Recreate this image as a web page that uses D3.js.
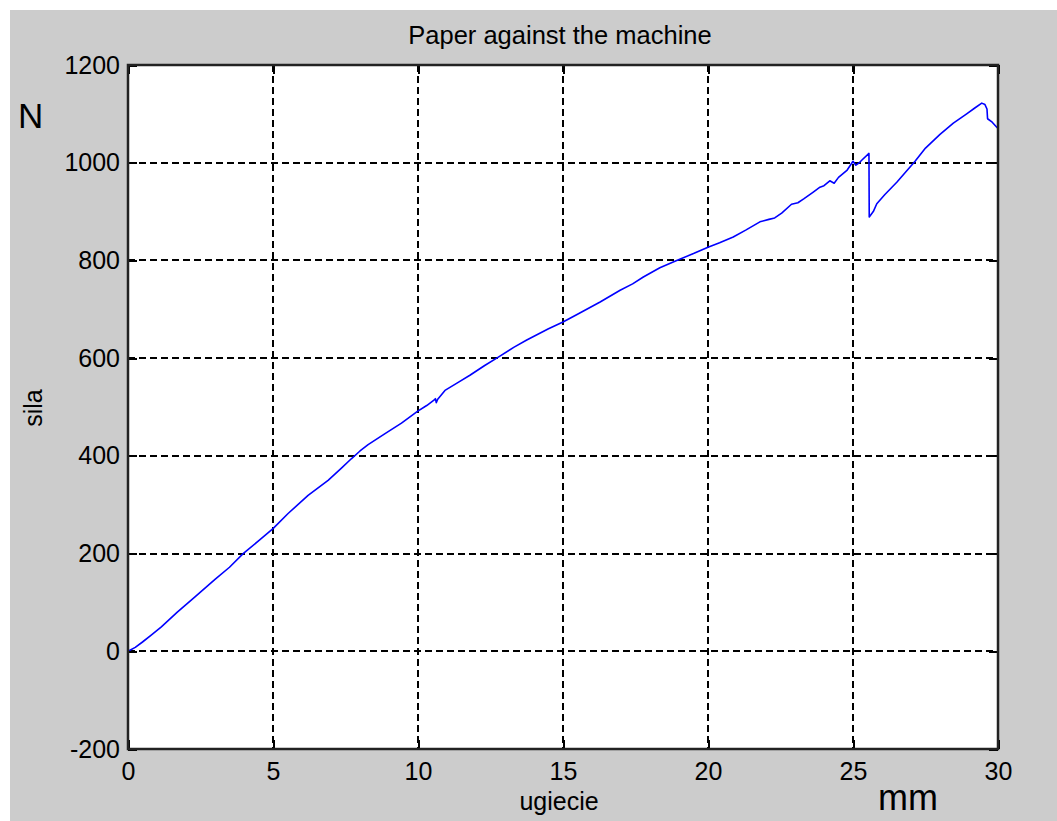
<!DOCTYPE html>
<html>
<head>
<meta charset="utf-8">
<script src="https://cdn.jsdelivr.net/npm/d3@7"></script>
<style>
  html, body { margin: 0; padding: 0; background: #ffffff; }
  svg { display: block; }
  text { font-family: "Liberation Sans", Arial, sans-serif; fill: #000; }
</style>
</head>
<body>
<svg id="chart" width="1057" height="821"></svg>
<script>
// Deflection (mm) and force (N) readings of the bending test
const deflection = [
  0, 0.25, 0.5, 0.8, 1.15, 1.7, 2.3, 3.0, 3.5, 3.97, 4.5, 5.0, 5.52, 6.21, 6.9, 7.36, 7.7,
  8.0, 8.28, 8.85, 9.43, 9.98, 10.3, 10.55, 10.6, 10.63, 10.68, 10.93, 11.4, 11.79, 12.3, 12.77,
  13.3, 13.75, 14.5, 15.0, 15.5, 16.28, 16.97, 17.4, 17.77, 18.34, 18.92, 19.5, 20.0, 20.4,
  20.87, 21.3, 21.79, 22.1, 22.3, 22.54, 22.88, 23.1, 23.3, 23.63, 23.86, 24.0, 24.2, 24.35,
  24.5, 24.8, 25.0, 25.1, 25.2, 25.3, 25.55, 25.56, 25.7, 25.82, 26.1, 26.51, 27.14, 27.5,
  28.0, 28.46, 28.92, 29.2, 29.44, 29.55, 29.62, 29.64, 29.8, 29.95, 30.0
];
const force = [
  0, 8, 19, 33, 50, 80, 111, 147, 172, 200, 226, 251, 282, 319, 350, 375, 394,
  410, 423, 445, 467, 491, 503, 514, 517, 509, 516, 534, 551, 565, 585, 602,
  622, 637, 660, 674, 690, 715, 739, 752, 766, 785, 800, 814, 827, 836,
  848, 862, 879, 884, 887, 897, 915, 918, 926, 940, 950, 953, 963, 958,
  970, 985, 1003, 995, 999, 1005, 1019, 889, 900, 916, 935, 960, 1003, 1030,
  1058, 1081, 1100, 1112, 1122, 1119, 1110, 1090, 1083, 1073, 1070
];

const xTicks = [0, 5, 10, 15, 20, 25, 30];
const yTicks = [-200, 0, 200, 400, 600, 800, 1000, 1200];

const titleText = "Paper against the machine";
const xLabel = "ugiecie";
const yLabel = "sila";
const xUnit = "mm";
const yUnit = "N";

const svg = d3.select("#chart");
const W = 1057, H = 821;
const plot = { left: 128, top: 65, right: 998, bottom: 749 };

// figure background
svg.append("rect").attr("x", 10).attr("y", 10).attr("width", W - 10).attr("height", H - 10)
  .attr("fill", "#cccccc");

const x = d3.scaleLinear().domain([0, 30]).range([plot.left, plot.right]);
const y = d3.scaleLinear().domain([-200, 1200]).range([plot.bottom, plot.top]);

// axes area
svg.append("rect")
  .attr("x", plot.left).attr("y", plot.top)
  .attr("width", plot.right - plot.left).attr("height", plot.bottom - plot.top)
  .attr("fill", "#ffffff");

// dashed grid
const grid = svg.append("g").attr("stroke", "#000").attr("stroke-width", 2)
  .attr("stroke-dasharray", "7,4").attr("fill", "none").attr("shape-rendering", "crispEdges");
grid.selectAll("line.v").data(xTicks.slice(1, -1)).join("line")
  .attr("x1", d => x(d)).attr("x2", d => x(d))
  .attr("y1", plot.top).attr("y2", plot.bottom);
grid.selectAll("line.h").data(yTicks.slice(1, -1)).join("line")
  .attr("x1", plot.left).attr("x2", plot.right)
  .attr("y1", d => y(d)).attr("y2", d => y(d));

// data curve
const line = d3.line().x((d, i) => x(deflection[i])).y((d, i) => y(force[i]));
svg.append("path").datum(force)
  .attr("d", line)
  .attr("fill", "none")
  .attr("stroke", "#0000ff")
  .attr("stroke-width", 1.6)
  .attr("stroke-linejoin", "round");

// axes with inward ticks on all four sides
const tickLen = 9;
const bottomAxis = d3.axisBottom(x).tickValues(xTicks).tickSize(-tickLen).tickPadding(13).tickFormat(d3.format("d"));
const topAxis = d3.axisTop(x).tickValues(xTicks).tickSize(-tickLen).tickFormat("");
const leftAxis = d3.axisLeft(y).tickValues(yTicks).tickSize(-tickLen).tickPadding(8).tickFormat(d => d < 0 ? "-" + Math.abs(d) : d);
const rightAxis = d3.axisRight(y).tickValues(yTicks).tickSize(-tickLen).tickFormat("");

function styleAxis(g) {
  g.select(".domain").remove();
  g.selectAll(".tick line").attr("stroke", "#000").attr("stroke-width", 2).attr("shape-rendering", "crispEdges");
  g.selectAll(".tick text").attr("fill", "#000")
    .style("font-family", "'Liberation Sans', Arial, sans-serif").style("font-size", "25px");
}

svg.append("g").attr("transform", `translate(0,${plot.bottom})`).call(bottomAxis).call(styleAxis)
  .selectAll(".tick text").attr("dy", "0.71em");
svg.append("g").attr("transform", `translate(0,${plot.top})`).call(topAxis).call(styleAxis);
svg.append("g").attr("transform", `translate(${plot.left},0)`).call(leftAxis).call(styleAxis);
svg.append("g").attr("transform", `translate(${plot.right},0)`).call(rightAxis).call(styleAxis);

// axes box
svg.append("rect")
  .attr("x", plot.left).attr("y", plot.top)
  .attr("width", plot.right - plot.left).attr("height", plot.bottom - plot.top)
  .attr("fill", "none").attr("stroke", "#222").attr("stroke-width", 2.5);

// title and labels
svg.append("text").attr("x", (plot.left + plot.right) / 2 - 3).attr("y", 44)
  .attr("text-anchor", "middle").style("font-size", "25.5px").text(titleText);
svg.append("text").attr("x", (plot.left + plot.right) / 2 - 4).attr("y", 810)
  .attr("text-anchor", "middle").style("font-size", "25px").text(xLabel);
svg.append("text").attr("transform", "translate(42,408) rotate(-90)")
  .attr("text-anchor", "middle").style("font-size", "25px").text(yLabel);
svg.append("text").attr("x", 878).attr("y", 810)
  .style("font-size", "36px").text(xUnit);
svg.append("text").attr("x", 18).attr("y", 128)
  .style("font-size", "35px").text(yUnit);
</script>
</body>
</html>
